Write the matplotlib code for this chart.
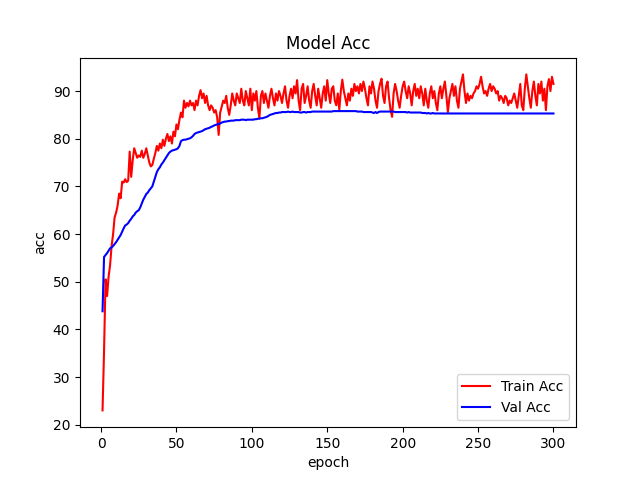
import matplotlib
matplotlib.use("Agg")
import matplotlib.pyplot as plt

train_acc = [
    23.0, 35.5, 50.5, 47.0, 51.0, 53.5, 57.5, 60.0, 63.5, 64.5,
    66.0, 68.5, 67.5, 71.0, 70.8, 71.5, 70.9, 71.2, 77.3, 72.0,
    75.5, 78.0, 77.0, 76.0, 76.5, 76.2, 77.5, 76.0, 76.8, 78.0,
    76.5, 75.0, 74.2, 74.5, 75.8, 77.0, 78.5, 77.5, 79.0, 78.0,
    79.8, 78.5, 80.0, 81.0, 79.5, 80.5, 79.0, 81.5, 80.5, 83.0,
    82.0, 84.0, 85.5, 84.5, 88.0, 86.5, 87.5, 86.8, 88.0, 87.0,
    87.5, 86.0, 88.0, 87.0, 89.0, 90.2, 88.5, 89.5, 87.5, 89.0,
    87.0, 86.0, 87.0, 86.5, 85.5, 86.0, 84.5, 80.8, 85.5, 86.7,
    88.0, 87.5, 89.0, 86.5, 85.0, 87.0, 89.5, 88.0, 87.0, 89.5,
    88.5, 87.5, 90.5, 88.0, 87.0, 90.0, 88.5, 87.0, 90.5, 86.0,
    89.5, 88.0, 90.0, 86.5, 84.3, 89.0, 90.0, 87.5, 89.5, 88.0,
    86.5, 89.0, 90.5, 88.5, 87.0, 89.5, 88.0, 90.0, 89.0, 87.5,
    89.5, 91.0, 88.0, 86.5, 89.0, 90.5, 88.5, 91.0, 89.5, 92.3,
    88.0, 86.0, 90.5, 91.5, 87.5, 89.0, 91.0, 88.0, 86.5, 90.0,
    91.5, 89.0, 87.0, 90.5, 88.5, 86.5, 89.5, 91.0, 88.0, 92.3,
    89.5, 87.5, 90.5, 91.0, 88.0, 87.0, 89.5, 86.1, 90.0, 92.4,
    90.0, 88.5, 87.0, 89.5, 88.0, 90.5, 89.0, 91.5, 90.0, 91.0,
    89.5, 91.5, 90.0, 92.0, 90.5, 88.5, 87.0, 91.0, 89.5, 92.0,
    90.5, 88.0, 86.5, 90.0, 91.5, 92.6, 89.0, 87.5, 91.0, 92.0,
    88.5, 86.0, 84.6, 89.5, 91.5, 90.0, 88.0, 86.5, 89.0, 91.0,
    92.0, 90.0, 88.5, 91.0, 89.5, 87.0, 90.0, 91.5, 89.0, 90.5,
    88.5, 91.0, 89.5, 87.0, 90.5, 88.0, 86.5, 89.5, 91.0, 88.5,
    90.0, 87.5, 86.0, 89.5, 91.0, 88.5, 90.5, 92.0, 89.0, 85.6,
    88.5, 90.0, 91.5, 89.0, 91.0, 88.0, 86.5, 90.5, 92.0, 93.5,
    90.0, 87.5, 89.5, 88.0, 89.0, 88.5, 89.5, 90.0, 91.0, 90.5,
    91.5, 93.0, 91.0, 89.5, 90.0, 89.0, 90.5, 91.5, 90.0, 91.0,
    90.5, 89.5, 90.0, 88.0, 89.0, 88.5, 87.5, 89.0, 88.5, 87.0,
    88.0, 87.5, 88.5, 89.5, 88.0, 86.5, 89.0, 91.5, 87.0, 86.0,
    90.5, 93.5, 91.0, 88.5, 86.5, 90.0, 92.0, 89.0, 87.0, 91.5,
    89.5, 92.0, 88.0, 90.5, 86.0, 91.0, 92.5, 90.0, 93.0, 91.5,
]

val_acc = [
    43.8, 55.2, 55.6, 56.0, 56.5, 57.0, 57.2, 57.5, 57.9, 58.3,
    58.8, 59.3, 59.8, 60.5, 61.2, 61.8, 62.0, 62.3, 62.8, 63.2,
    63.7, 64.0, 64.5, 64.8, 65.0, 65.6, 66.4, 67.2, 67.8, 68.4,
    68.7, 69.2, 69.6, 70.0, 71.0, 72.0, 73.0, 73.6, 74.0, 74.6,
    75.0, 75.5, 76.0, 76.5, 77.0, 77.3, 77.5, 77.6, 77.7, 77.8,
    78.0, 78.5, 79.5, 79.7, 79.8, 79.8, 79.9, 80.0, 80.1, 80.3,
    80.6, 81.0, 81.2, 81.3, 81.4, 81.5, 81.6, 81.8, 82.0, 82.1,
    82.2, 82.3, 82.5, 82.6, 82.8, 82.9, 83.0, 83.1, 83.2, 83.4,
    83.5, 83.6, 83.6, 83.7, 83.7, 83.8, 83.8, 83.8, 83.9, 83.9,
    83.9, 83.9, 84.0, 84.0, 84.0, 83.9, 84.0, 84.0, 84.0, 84.0,
    84.0, 84.1, 84.1, 84.2, 84.2, 84.3, 84.3, 84.4, 84.5, 84.6,
    84.8, 85.0, 85.1, 85.2, 85.3, 85.4, 85.4, 85.5, 85.5, 85.6,
    85.6, 85.6, 85.6, 85.7, 85.6, 85.6, 85.7, 85.6, 85.6, 85.6,
    85.6, 85.5, 85.5, 85.6, 85.6, 85.5, 85.6, 85.6, 85.6, 85.7,
    85.7, 85.7, 85.7, 85.7, 85.7, 85.7, 85.7, 85.7, 85.7, 85.7,
    85.7, 85.7, 85.7, 85.8, 85.8, 85.8, 85.8, 85.8, 85.8, 85.8,
    85.8, 85.8, 85.8, 85.8, 85.8, 85.8, 85.8, 85.8, 85.8, 85.7,
    85.7, 85.7, 85.7, 85.6, 85.6, 85.6, 85.6, 85.6, 85.6, 85.5,
    85.4, 85.6, 85.4, 85.6, 85.7, 85.7, 85.7, 85.7, 85.7, 85.7,
    85.7, 85.7, 85.7, 85.7, 85.6, 85.6, 85.6, 85.6, 85.6, 85.6,
    85.6, 85.6, 85.5, 85.6, 85.5, 85.5, 85.5, 85.5, 85.5, 85.5,
    85.5, 85.5, 85.4, 85.4, 85.4, 85.3, 85.4, 85.3, 85.3, 85.4,
    85.3, 85.3, 85.3, 85.3, 85.3, 85.3, 85.3, 85.3, 85.3, 85.3,
    85.3, 85.3, 85.3, 85.3, 85.3, 85.3, 85.3, 85.3, 85.3, 85.3,
    85.3, 85.3, 85.3, 85.3, 85.3, 85.3, 85.3, 85.3, 85.3, 85.3,
    85.3, 85.3, 85.3, 85.3, 85.3, 85.3, 85.3, 85.3, 85.3, 85.3,
    85.3, 85.3, 85.3, 85.3, 85.3, 85.3, 85.3, 85.3, 85.3, 85.3,
    85.3, 85.3, 85.3, 85.3, 85.3, 85.3, 85.3, 85.3, 85.3, 85.3,
    85.3, 85.3, 85.3, 85.3, 85.3, 85.3, 85.3, 85.3, 85.3, 85.3,
    85.3, 85.3, 85.3, 85.3, 85.3, 85.3, 85.3, 85.3, 85.3, 85.3,
]

epochs = list(range(1, len(train_acc) + 1))

fig, ax = plt.subplots(figsize=(6.4, 4.8), dpi=100)
ax.plot(epochs, train_acc, color="red", label="Train Acc")
ax.plot(epochs, val_acc, color="blue", label="Val Acc")
ax.set_title("Model Acc")
ax.set_xlabel("epoch")
ax.set_ylabel("acc")
ax.legend(loc="lower right")
fig.savefig("out.png", dpi=100)
